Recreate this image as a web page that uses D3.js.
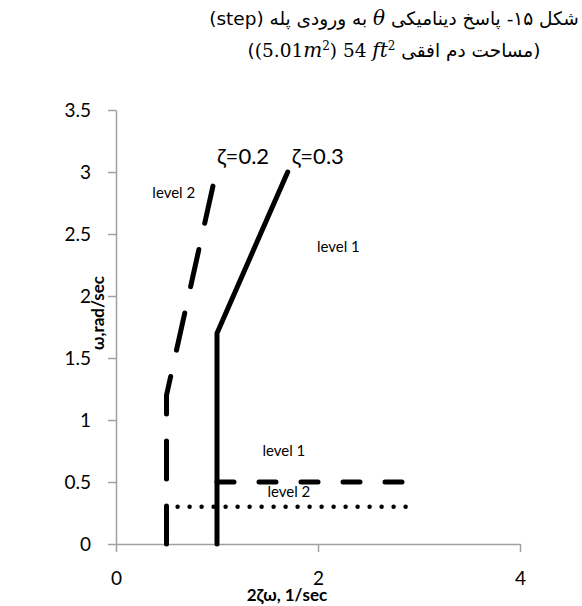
<!DOCTYPE html>
<html>
<head>
<meta charset="utf-8">
<script src="https://cdn.jsdelivr.net/npm/d3@7"></script>
<style>
  body { margin: 0; background: #fff; }
  #wrap { position: relative; width: 582px; height: 606px; }
  .title {
    position: absolute; left: 164px; width: 460px; text-align: center;
    direction: rtl; font-family: "DejaVu Sans", sans-serif; font-size: 18.5px; color: #000;
    white-space: nowrap; line-height: 1.2;
  }
  .title i { font-family: "DejaVu Serif", serif; font-size: 20px; }
  .title sup { font-size: 12px; }
</style>
</head>
<body>
<div id="wrap"></div>
<script>
// chart values
const xTicks = [0, 2, 4];
const yTicks = [0, 0.5, 1, 1.5, 2, 2.5, 3, 3.5];

const zeta02X = [0.5, 0.5, 0.98];
const zeta02Y = [0, 1.2, 2.96];
const zeta03X = [1.0, 1.0, 1.7];
const zeta03Y = [0, 1.7, 3.0];
const level1X = [1.0, 2.87];
const level1Y = [0.5, 0.5];
const level2X = [0.61, 2.93];
const level2Y = [0.3, 0.3];

const labelTexts = ["level 2", "level 1", "level 1", "level 2"];
const labelX = [0.36, 1.99, 1.45, 1.5];
const labelY = [2.83, 2.4, 0.75, 0.42];

const width = 582, height = 606;
const wrap = d3.select("#wrap");

// title (RTL text is easier in html)
wrap.append("div").attr("class", "title").style("top", "6px")
  .html("شکل ۱۵- پاسخ دینامیکی <i>θ</i> به ورودی پله (step)");
wrap.append("div").attr("class", "title").style("top", "38px")
  .html("(مساحت دم افقی \u2066<span style='font-family:DejaVu Serif'>54 <i>ft</i><sup>2</sup></span>\u2069 \u2066<span style='font-family:DejaVu Serif'>(5.01<i>m</i><sup>2</sup>)</span>\u2069)");

const svg = wrap.append("svg")
  .attr("width", width)
  .attr("height", height)
  .style("position", "absolute").style("left", 0).style("top", 0);

const x = d3.scaleLinear().domain([0, 4]).range([116, 520]);
const y = d3.scaleLinear().domain([0, 3.5]).range([544, 110]);

// axes
const xAxis = svg.append("g")
  .attr("transform", `translate(0,${y(0)})`)
  .call(d3.axisBottom(x).tickValues(xTicks).tickFormat(d3.format("d")).tickSize(8).tickSizeOuter(0).tickPadding(20));
const yAxis = svg.append("g")
  .attr("transform", `translate(${x(0)},0)`)
  .call(d3.axisLeft(y).tickValues(yTicks).tickFormat(d => d).tickSize(8).tickSizeOuter(0).tickPadding(17));

[xAxis, yAxis].forEach(g => {
  g.selectAll("path, line").attr("stroke", "#a0a0a0").attr("stroke-width", 1.5);
  g.selectAll("text").style("font-family", "Lato").style("font-size", "19px").attr("fill", "#000");
});

// axis titles
svg.append("text")
  .attr("x", 287).attr("y", 601)
  .attr("text-anchor", "middle")
  .style("font-family", "Lato").style("font-weight", "bold").style("font-size", "17px")
  .text("2ζω, 1/sec");
svg.append("text")
  .attr("transform", `translate(104,313) rotate(-90)`)
  .attr("text-anchor", "middle")
  .style("font-family", "Lato").style("font-weight", "bold").style("font-size", "17px")
  .text("ω,rad/sec");

// series
const line = d3.line().x(d => x(d[0])).y(d => y(d[1]));
const series = [
  { xs: zeta02X, ys: zeta02Y, dash: "38,27", w: 5 },
  { xs: zeta03X, ys: zeta03Y, dash: null, w: 5 },
  { xs: level1X, ys: level1Y, dash: "17,25", w: 5 },
  { xs: level2X, ys: level2Y, dash: "0,12", w: 4.5 }
];
series.forEach(s => {
  svg.append("path")
    .datum(s.xs.map((v, i) => [v, s.ys[i]]))
    .attr("d", line)
    .attr("fill", "none")
    .attr("stroke", "#000")
    .attr("stroke-width", s.w)
    .attr("stroke-linecap", "round")
    .attr("stroke-linejoin", "round")
    .attr("stroke-dasharray", s.dash);
});

// series names
svg.append("text").attr("x", x(1.0)).attr("y", y(3.0) - 8)
  .style("font-family", "Lato").style("font-size", "22px").text("ζ=0.2");
svg.append("text").attr("x", x(1.74)).attr("y", y(3.0) - 8)
  .style("font-family", "Lato").style("font-size", "22px").text("ζ=0.3");

// region labels
svg.selectAll(".lvl")
  .data(labelTexts)
  .enter().append("text")
  .attr("class", "lvl")
  .attr("x", (d, i) => x(labelX[i]))
  .attr("y", (d, i) => y(labelY[i]))
  .attr("dy", "0.35em")
  .style("font-family", "Lato").style("font-size", "15px")
  .text(d => d);
</script>
</body>
</html>
